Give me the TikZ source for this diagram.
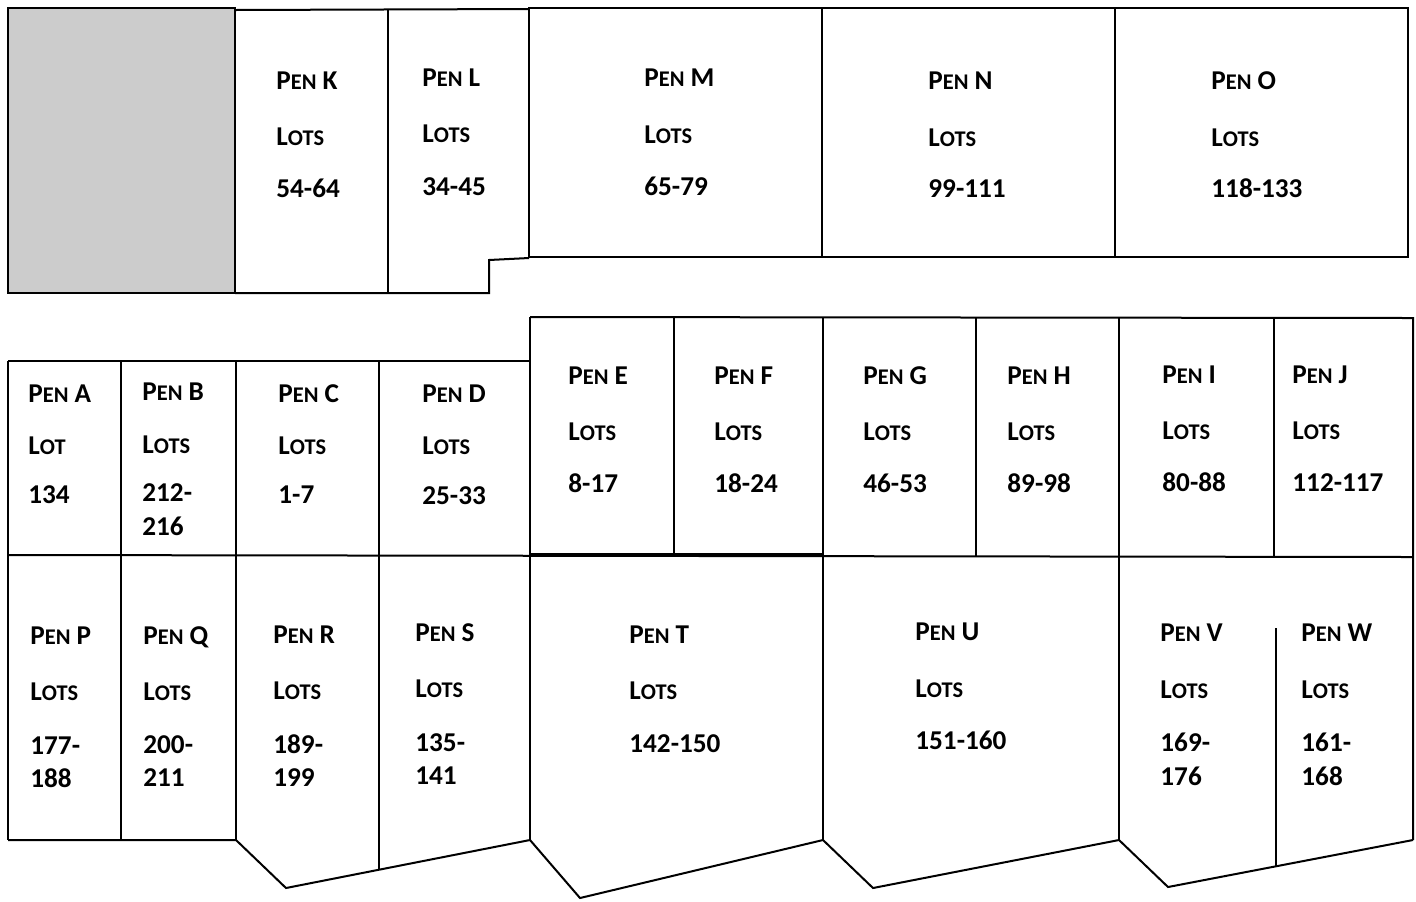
\documentclass[tikz,border=0pt]{standalone}
\usepackage{fontspec}
\setmainfont{Carlito}
\newcommand\smc[1]{{\fontsize{11.2}{12}\selectfont #1}}
\newcommand\penlbl[1]{P\smc{EN} #1}
\newcommand\lotslbl{L\smc{OTS}}
\newcommand\lotlbl{L\smc{OT}}
\tikzset{
  lbl/.style={anchor=base west, inner sep=0pt, font=\fontsize{13.6}{16}\selectfont\bfseries},
  wall/.style={line width=1pt, black, line join=miter},
  grayzone/.style={fill=black!20, draw=black, line width=1.2pt}
}
\begin{document}
\begin{tikzpicture}[x=0.5pt,y=-0.5pt]
\useasboundingbox (0,0) rectangle (1416,901);
% top row
\path[grayzone] (8,8) rectangle (235,293);
\draw[wall] (235,10) -- (529,9);
\draw[wall] (235,293) -- (489,293) -- (489,260) -- (529,258);
\draw[wall] (388,10) -- (388,293);
\draw[wall] (529,8) rectangle (1408,257);
\draw[wall] (822,8) -- (822,257);
\draw[wall] (1115,8) -- (1115,257);
% middle row
\draw[wall] (8,361) -- (530,361);
\draw[wall] (530,317) -- (1413,318) -- (1413,840);
\draw[wall] (8,361) -- (8,840);
\draw[wall] (121,361) -- (121,840);
\draw[wall] (236,361) -- (236,840);
\draw[wall] (379,361) -- (379,869);
\draw[wall] (530,317) -- (530,840);
\draw[wall] (674,317) -- (674,555);
\draw[wall] (823,317) -- (823,840);
\draw[wall] (976,317) -- (976,556);
\draw[wall] (1119,317) -- (1119,840);
\draw[wall] (1274,318) -- (1274,557);
\draw[wall] (1276,628) -- (1276,866);
\draw[wall] (8,555) -- (1413,557);
\draw[line width=1.6pt] (530,555) -- (823,555);
% bottom outline
\draw[wall] (8,840) -- (236,840) -- (286,888) -- (530,840) -- (580,898) -- (823,840)
  -- (873,888) -- (1119,840) -- (1168,887) -- (1413,840);
% labels top
\node[lbl] (k1) at (276,89) {\penlbl{K}};
\node[lbl] (k2) at (276,145) {\lotslbl};
\node[lbl] (k3) at (276,197) {54-64};
\node[lbl] (l1) at (422,86) {\penlbl{L}};
\node[lbl] (l2) at (422,142) {\lotslbl};
\node[lbl] (l3) at (422,195) {34-45};
\node[lbl] (m1) at (644,86) {\penlbl{M}};
\node[lbl] (m2) at (644,143) {\lotslbl};
\node[lbl] (m3) at (644,195) {65-79};
\node[lbl] (n1) at (928,89) {\penlbl{N}};
\node[lbl] (n2) at (928,146) {\lotslbl};
\node[lbl] (n3) at (928,197) {99-111};
\node[lbl] (o1) at (1211,89) {\penlbl{O}};
\node[lbl] (o2) at (1211,146) {\lotslbl};
\node[lbl] (o3) at (1211,197) {118-133};
% middle
\node[lbl] (a1) at (28,402) {\penlbl{A}};
\node[lbl] (a2) at (28,454) {\lotlbl};
\node[lbl] (a3) at (28,503) {134};
\node[lbl] (b1) at (142,400) {\penlbl{B}};
\node[lbl] (b2) at (142,453) {\lotslbl};
\node[lbl] (b3) at (142,501) {212-};
\node[lbl] (b4) at (142,535) {216};
\node[lbl] (c1) at (278,402) {\penlbl{C}};
\node[lbl] (c2) at (278,454) {\lotslbl};
\node[lbl] (c3) at (278,503) {1-7};
\node[lbl] (d1) at (422,402) {\penlbl{D}};
\node[lbl] (d2) at (422,454) {\lotslbl};
\node[lbl] (d3) at (422,504) {25-33};
\node[lbl] (e1) at (568,384) {\penlbl{E}};
\node[lbl] (e2) at (568,440) {\lotslbl};
\node[lbl] (e3) at (568,492) {8-17};
\node[lbl] (f1) at (714,384) {\penlbl{F}};
\node[lbl] (f2) at (714,440) {\lotslbl};
\node[lbl] (f3) at (714,492) {18-24};
\node[lbl] (g1) at (863,384) {\penlbl{G}};
\node[lbl] (g2) at (863,440) {\lotslbl};
\node[lbl] (g3) at (863,492) {46-53};
\node[lbl] (h1) at (1007,384) {\penlbl{H}};
\node[lbl] (h2) at (1007,440) {\lotslbl};
\node[lbl] (h3) at (1007,492) {89-98};
\node[lbl] (i1) at (1162,383) {\penlbl{I}};
\node[lbl] (i2) at (1162,439) {\lotslbl};
\node[lbl] (i3) at (1162,491) {80-88};
\node[lbl] (j1) at (1292,383) {\penlbl{J}};
\node[lbl] (j2) at (1292,439) {\lotslbl};
\node[lbl] (j3) at (1292,491) {112-117};
% bottom
\node[lbl] (p1) at (30,644) {\penlbl{P}};
\node[lbl] (p2) at (30,700) {\lotslbl};
\node[lbl] (p3) at (30,754) {177-};
\node[lbl] (p4) at (30,787) {188};
\node[lbl] (q1) at (143,644) {\penlbl{Q}};
\node[lbl] (q2) at (143,700) {\lotslbl};
\node[lbl] (q3) at (143,753) {200-};
\node[lbl] (q4) at (143,786) {211};
\node[lbl] (r1) at (273,643) {\penlbl{R}};
\node[lbl] (r2) at (273,699) {\lotslbl};
\node[lbl] (r3) at (273,753) {189-};
\node[lbl] (r4) at (273,786) {199};
\node[lbl] (s1) at (415,641) {\penlbl{S}};
\node[lbl] (s2) at (415,697) {\lotslbl};
\node[lbl] (s3) at (415,751) {135-};
\node[lbl] (s4) at (415,784) {141};
\node[lbl] (t1) at (629,643) {\penlbl{T}};
\node[lbl] (t2) at (629,699) {\lotslbl};
\node[lbl] (t3) at (629,752) {142-150};
\node[lbl] (u1) at (915,640) {\penlbl{U}};
\node[lbl] (u2) at (915,697) {\lotslbl};
\node[lbl] (u3) at (915,749) {151-160};
\node[lbl] (v1) at (1160,641) {\penlbl{V}};
\node[lbl] (v2) at (1160,698) {\lotslbl};
\node[lbl] (v3) at (1160,751) {169-};
\node[lbl] (v4) at (1160,785) {176};
\node[lbl] (w1) at (1301,641) {\penlbl{W}};
\node[lbl] (w2) at (1301,698) {\lotslbl};
\node[lbl] (w3) at (1301,751) {161-};
\node[lbl] (w4) at (1301,785) {168};
\end{tikzpicture}
\end{document}
